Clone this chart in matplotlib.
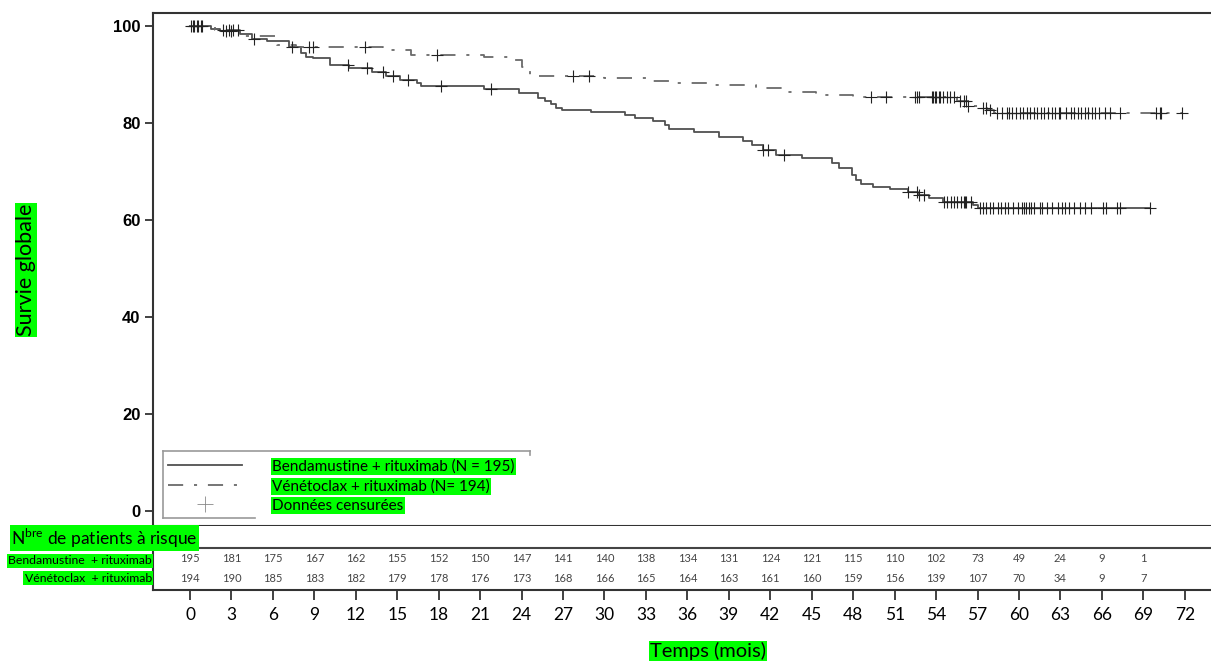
import numpy as np
import matplotlib
matplotlib.use("Agg")
import matplotlib.pyplot as plt
from matplotlib.lines import Line2D

# Kaplan-Meier steps (time in months, survival in %)
benda_t = [0, 1.5, 2.2, 3.6, 4.5, 5.6, 7.2, 8.0, 8.4, 8.9, 10.1, 11.5, 13.2, 14.2,
           15.2, 16.4, 16.7, 21.3, 23.8, 25.2, 25.7, 26.1, 26.5, 26.9, 29.0, 31.5,
           32.2, 33.5, 34.4, 34.7, 36.5, 38.3, 40.0, 40.7, 41.5, 42.4, 44.3, 46.5,
           47.0, 47.9, 48.2, 48.6, 49.4, 50.7, 52.0, 52.7, 53.5, 54.5, 56.7, 57.0]
benda_s = [100, 99.5, 99.0, 98.3, 97.3, 96.9, 95.7, 94.4, 93.7, 93.4, 92.0, 91.3,
           90.6, 89.8, 88.9, 88.2, 87.6, 87.0, 86.3, 85.1, 84.5, 83.9, 83.2, 82.7,
           82.3, 81.7, 81.0, 80.4, 79.6, 78.7, 78.2, 77.1, 76.2, 75.5, 74.4, 73.4,
           72.7, 71.8, 70.7, 69.3, 68.3, 67.4, 66.9, 66.3, 65.8, 65.2, 64.5, 63.8,
           63.1, 62.4]
benda_cens = [0.2, 0.5, 0.9, 2.6, 3.0, 4.6, 7.4, 11.4, 12.8, 14.0, 14.7, 15.8, 18.2,
              21.8, 41.5, 41.8, 43.0, 52.0, 52.6, 52.8, 53.1, 54.6, 54.8, 55.1, 55.3,
              55.5, 55.8, 56.0, 56.1, 56.2, 56.5, 57.2, 57.4, 57.6, 57.9, 58.1, 58.5,
              58.7, 59.0, 59.2, 59.6, 59.9, 60.2, 60.4, 60.5, 60.7, 60.9, 61.1, 61.5,
              61.7, 62.0, 62.4, 62.8, 63.1, 63.3, 63.6, 64.0, 64.4, 64.8, 65.2, 66.1,
              66.3, 67.1, 67.3, 69.5]

ven_t = [0, 1.8, 3.6, 4.0, 6.3, 7.7, 14.0, 16.0, 21.3, 23.5, 24.0, 24.6, 30.0, 33.0,
         35.0, 37.5, 41.0, 43.2, 45.3, 48.0, 55.5, 56.3, 57.0, 57.7, 58.2]
ven_s = [100, 99.2, 98.5, 98.0, 96.2, 95.7, 95.0, 94.0, 93.7, 93.0, 91.5, 89.7, 89.2,
         88.7, 88.2, 87.8, 87.2, 86.4, 85.7, 85.4, 84.5, 83.6, 83.2, 82.6, 82.0]
ven_cens = [0.1, 0.3, 0.6, 0.8, 2.4, 2.8, 3.1, 3.5, 8.6, 8.9, 12.7, 17.9, 27.7, 28.9,
            49.3, 50.4, 52.5, 52.6, 52.8, 53.7, 53.8, 53.9, 54.0, 54.2, 54.3, 54.5,
            54.8, 55.0, 55.3, 55.7, 56.0, 56.2, 56.3, 57.4, 57.6, 57.9, 58.4, 58.8,
            59.1, 59.3, 59.5, 59.8, 60.1, 60.3, 60.6, 60.8, 61.1, 61.3, 61.6, 61.8,
            62.1, 62.4, 62.6, 62.9, 63.0, 63.4, 63.8, 64.0, 64.3, 64.5, 64.8, 65.0,
            65.3, 65.5, 65.8, 66.2, 66.6, 67.3, 69.9, 70.2, 70.3, 71.8]

# number at risk table
risk_times = list(range(0, 70, 3))
risk_benda = [195, 181, 175, 167, 162, 155, 152, 150, 147, 141, 140, 138, 134, 131,
              124, 121, 115, 110, 102, 73, 49, 24, 9, 1]
risk_ven = [194, 190, 185, 183, 182, 179, 178, 176, 173, 168, 166, 165, 164, 163,
            161, 160, 159, 156, 139, 107, 70, 34, 9, 7]

x_ticks = list(range(0, 73, 3))
y_ticks = [0, 20, 40, 60, 80, 100]

labels = ["Bendamustine + rituximab (N = 195)",
          "Vénétoclax + rituximab (N= 194)",
          "Données censurées"]
row_labels = ["Bendamustine  + rituximab", "Vénétoclax  + rituximab"]

GREEN = "#00ff00"
FONT = "Lato"
W, H = 1211, 661


def level_at(times, surv, t):
    idx = np.searchsorted(times, t, side="right") - 1
    return np.asarray(surv)[idx]


def green_box(txt):
    txt.set_bbox(dict(facecolor=GREEN, edgecolor="none", pad=1.0))


def fig_line(x0, y0, x1, y1):
    # a line given in pixel positions of the figure (origin top left)
    fig.add_artist(Line2D([x0 / W, x1 / W], [1 - y0 / H, 1 - y1 / H],
                          color="#999999", lw=1.2))


fig = plt.figure(figsize=(W / 100, H / 100), dpi=100)
ax = fig.add_axes([153 / W, 1 - 526 / H, 1 - 153 / W, (526 - 13) / H])
tab = fig.add_axes([153 / W, 1 - 590 / H, 1 - 153 / W, (590 - 526) / H], sharex=ax)

dash_dot = (8.4, 6, 1.7, 6)

# curves, extended to the last censored time
bt = benda_t + [max(benda_cens)]
bs = benda_s + [benda_s[-1]]
vt = ven_t + [max(ven_cens)]
vs = ven_s + [ven_s[-1]]
ax.plot(bt, bs, drawstyle="steps-post", color="#505050", lw=1.3)
ax.plot(vt, vs, drawstyle="steps-post", color="#6a6a6a", lw=1.3, dashes=dash_dot)

ax.plot(benda_cens, level_at(benda_t, benda_s, benda_cens), ls="none", marker="+",
        ms=9, mew=0.8, color="#222222")
ax.plot(ven_cens, level_at(ven_t, ven_s, ven_cens), ls="none", marker="+",
        ms=9, mew=0.8, color="#222222")

ax.set_xlim(-2.68, 73.9)
ax.set_ylim(-3.1, 102.7)
ax.set_yticks(y_ticks)
ax.set_yticklabels([str(v) for v in y_ticks], fontfamily="Liberation Sans",
                   fontweight="bold", fontsize=12)
ax.tick_params(axis="y", direction="out", length=6, width=1.3, color="#333333", pad=3)
ax.tick_params(axis="x", bottom=False, labelbottom=False)
for side in ["left", "top", "bottom"]:
    ax.spines[side].set_color("#333333")
    ax.spines[side].set_linewidth(1.5)
ax.spines["right"].set_visible(False)

# legend (frame partly hidden in the original, drawn by hand below)
handles = [Line2D([], [], color="#505050", lw=1.3),
           Line2D([], [], color="#6a6a6a", lw=1.3, dashes=dash_dot),
           Line2D([], [], ls="none", marker="+", ms=11, mew=0.6, color="#888888")]
leg = ax.legend(handles, labels, loc="lower left", bbox_to_anchor=(0.0095, 0.0156),
                prop={"family": FONT, "size": 11}, frameon=False, handlelength=4.8,
                handletextpad=2.0, labelspacing=0.35, borderpad=0.35,
                borderaxespad=0)
for t in leg.get_texts():
    green_box(t)
fig_line(163, 451, 530, 451)
fig_line(163, 451, 163, 518)
fig_line(163, 518, 255, 518)
fig_line(530, 451, 530, 455)

# risk table
tab.set_ylim(0, 64)
tab.axhline(42, color="#444444", lw=1.5)
for t, b, v in zip(risk_times, risk_benda, risk_ven):
    tab.text(t, 32, str(b), ha="center", va="center", fontsize=8,
             family=FONT, color="#444444")
    tab.text(t, 12, str(v), ha="center", va="center", fontsize=8,
             family=FONT, color="#444444")
tab.set_yticks([])
tab.set_xticks(x_ticks)
tab.set_xticklabels([str(v) for v in x_ticks], fontfamily=FONT, fontsize=12.5)
tab.tick_params(axis="x", direction="out", length=7, width=1.3, color="#333333",
                pad=5)
tab.spines["top"].set_visible(False)
tab.spines["right"].set_visible(False)
for side in ["left", "bottom"]:
    tab.spines[side].set_color("#333333")
    tab.spines[side].set_linewidth(1.5)

# labels with green highlight
txt = fig.text(11 / W, 1 - 538 / H, r"N$^{\mathregular{bre}}$ de patients à risque",
               ha="left", va="center", fontsize=12.5, family=FONT)
green_box(txt)
for i, lab in enumerate(row_labels):
    txt = fig.text(152 / W, 1 - (561 + 17 * i) / H, lab, ha="right", va="center",
                   fontsize=8.8, family=FONT)
    green_box(txt)

txt = fig.text(708 / W, 1 - 651 / H, "Temps (mois)", ha="center", va="center",
               fontsize=14.5, family=FONT)
green_box(txt)
txt = fig.text(26 / W, 1 - 270 / H, "Survie globale", ha="center", va="center",
               rotation=90, fontsize=15.5, family=FONT)
green_box(txt)

fig.savefig("out.png", dpi=100)
